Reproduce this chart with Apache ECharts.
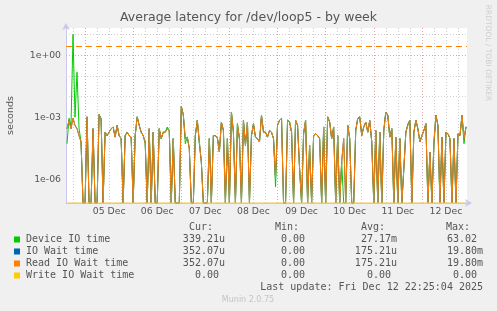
<!DOCTYPE html>
<html><head><meta charset="utf-8">
<script src="https://cdn.jsdelivr.net/npm/echarts@6/dist/echarts.min.js"></script>
<style>html,body{margin:0;padding:0;background:#f0f0f0;}#c{width:497px;height:311px;}</style>
</head><body><div id="c"></div>
<script>
// hours counted from Dec 4 00:00; one sample per hour starting Dec 4 15:00
const startHour = 15;
const deviceIO = [
5.3e-5,9e-4,4e-4,10,1e-3,0.15,3e-4,6.4e-5,0,0,
1.05e-3,0,0,2.8e-4,0,0,1.35e-3,8.7e-4,0,1.9e-4,
1.3e-4,1.9e-4,2.8e-4,3.4e-4,1.1e-4,4.1e-4,1.3e-4,9.3e-5,0,1.3e-4,
1.9e-4,1.3e-4,1.1e-4,0,1.3e-4,1.05e-3,4.1e-4,1.9e-4,1.3e-4,5.3e-5,
0,2.8e-4,0,1.9e-4,0,0,2.8e-4,9.3e-5,1.9e-4,1.9e-4,
3.4e-4,2.3e-4,0,9.3e-5,0,0,0,3.4e-3,1.35e-3,5.3e-5,
1.1e-4,3.1e-5,0,0,1.3e-4,7.2e-4,5.3e-5,7e-6,0,0,
0,9.3e-5,0,1.3e-4,1.3e-4,1e-4,2.1e-5,5.9e-4,2.3e-4,0,
9.3e-5,0,1.8e-3,1.9e-4,0,5e-4,9.3e-5,0,7.2e-4,4.4e-5,
5.9e-4,0,1.3e-4,4.9e-4,1.1e-4,9.3e-5,6.4e-5,1.25e-3,1.9e-4,1.9e-4,
1.1e-4,2.3e-4,1.9e-4,9.3e-5,4.3e-7,4.1e-4,7.2e-4,8.7e-4,0,0,
7.2e-4,6.2e-4,1.9e-4,0,7.2e-4,4.1e-4,3.3e-6,0,1.6e-4,7.2e-4,
0,4.4e-5,0,1.3e-4,1.6e-4,1.3e-4,9.3e-5,0,3.4e-4,0,
1.05e-3,5.9e-4,9.3e-5,3.4e-4,0,1.3e-4,0,7e-6,0,0,
4.1e-4,9.3e-5,0,0,2.3e-4,8.7e-4,1.05e-3,1.3e-4,3.4e-4,5.9e-4,
1.9e-4,6.6e-4,6.4e-5,0,2.3e-4,0,1.9e-4,0,2.3e-4,1.8e-3,
1.25e-3,1.1e-4,2.8e-4,0,1.1e-4,0,9.3e-5,0,3.3e-6,1.9e-4,
4.9e-4,7.2e-4,0,1.9e-4,7.2e-4,2.8e-4,6.4e-5,1.3e-4,2.3e-4,4.9e-4,
0,2.1e-5,0,4.4e-5,1.25e-3,4.1e-4,0,1.1e-4,0,1.9e-4,
1.6e-4,9.3e-5,0,9.3e-5,0,1.6e-4,1.3e-4,1.25e-3,5.3e-5,3.4e-4];
const ioWait = [
2.8e-4,7e-4,2.8e-4,9e-4,4e-4,2.8e-4,1.3e-4,6.4e-5,0,0,
1.05e-3,0,0,2.8e-4,0,0,1.35e-3,8.7e-4,0,1.9e-4,
1.3e-4,1.9e-4,2.8e-4,3.4e-4,1.1e-4,4.1e-4,1.3e-4,9.3e-5,0,1.3e-4,
1.9e-4,1.3e-4,1.1e-4,0,1.3e-4,1.05e-3,4.1e-4,1.9e-4,1.3e-4,6.4e-5,
0,2.8e-4,0,1.9e-4,0,0,2.8e-4,9.3e-5,1.9e-4,1.9e-4,
2.8e-4,2.3e-4,0,9.3e-5,0,0,0,3.4e-3,1.35e-3,9.3e-5,
1.1e-4,3.1e-5,0,0,1.3e-4,7.2e-4,6.4e-5,7e-6,0,0,
0,9.3e-5,0,1.3e-4,1.3e-4,1e-4,2.1e-5,5.9e-4,2.3e-4,0,
9.3e-5,0,1.8e-3,1.9e-4,0,4.5e-4,9.3e-5,0,7.2e-4,4.4e-5,
5.9e-4,0,1.3e-4,4.9e-4,1.1e-4,9.3e-5,6.4e-5,1.25e-3,1.9e-4,1.9e-4,
1.1e-4,2.3e-4,1.9e-4,9.3e-5,1.1e-6,4.1e-4,7.2e-4,8.7e-4,0,0,
7.2e-4,5.9e-4,1.9e-4,0,7.2e-4,4.1e-4,3.3e-6,0,1.6e-4,7.2e-4,
0,4.4e-5,0,1.3e-4,1.6e-4,1.3e-4,9.3e-5,0,3.4e-4,0,
1.05e-3,5.9e-4,9.3e-5,3.4e-4,0,1.3e-4,0,7e-6,9.3e-5,0,
4.1e-4,9.3e-5,0,0,2.3e-4,8.7e-4,1.05e-3,1.3e-4,3.4e-4,5.9e-4,
1.9e-4,7.2e-4,6.4e-5,0,2.3e-4,0,1.9e-4,0,2.3e-4,1.8e-3,
1.25e-3,1.1e-4,2.8e-4,0,1.1e-4,0,9.3e-5,0,3.3e-6,1.9e-4,
4.1e-4,7.2e-4,0,1.9e-4,7.2e-4,2.8e-4,6.4e-5,1.3e-4,2.3e-4,4.9e-4,
0,2.1e-5,0,6.4e-5,1.25e-3,4.1e-4,0,1.1e-4,0,1.9e-4,
1.6e-4,9.3e-5,0,9.3e-5,0,1.6e-4,1.3e-4,1.25e-3,9.3e-5,3.5e-4];
const readIOWait = [
2.8e-4,7e-4,2.8e-4,9e-4,4e-4,2.8e-4,1.3e-4,6.4e-5,0,0,
1.05e-3,0,0,2.8e-4,0,0,1.35e-3,8.7e-4,0,1.9e-4,
1.3e-4,1.9e-4,2.8e-4,3.4e-4,1.1e-4,4.1e-4,1.3e-4,9.3e-5,0,1.3e-4,
1.9e-4,1.3e-4,1.1e-4,0,1.3e-4,1.05e-3,4.1e-4,1.9e-4,1.3e-4,6.4e-5,
0,2.8e-4,0,1.9e-4,0,0,2.8e-4,9.3e-5,1.9e-4,1.9e-4,
2.8e-4,2.3e-4,0,9.3e-5,0,0,0,3.4e-3,1.35e-3,9.3e-5,
1.1e-4,3.1e-5,0,0,1.3e-4,7.2e-4,6.4e-5,7e-6,0,0,
0,9.3e-5,0,1.3e-4,1.3e-4,1e-4,2.1e-5,5.9e-4,2.3e-4,0,
9.3e-5,0,1.8e-3,1.9e-4,0,4.5e-4,9.3e-5,0,7.2e-4,4.4e-5,
5.9e-4,0,1.3e-4,4.9e-4,1.1e-4,9.3e-5,6.4e-5,1.25e-3,1.9e-4,1.9e-4,
1.1e-4,2.3e-4,1.9e-4,9.3e-5,1.1e-6,4.1e-4,7.2e-4,8.7e-4,0,0,
7.2e-4,5.9e-4,1.9e-4,0,7.2e-4,4.1e-4,3.3e-6,0,1.6e-4,7.2e-4,
0,4.4e-5,0,1.3e-4,1.6e-4,1.3e-4,9.3e-5,0,3.4e-4,0,
1.05e-3,5.9e-4,9.3e-5,3.4e-4,0,1.3e-4,0,7e-6,9.3e-5,0,
4.1e-4,9.3e-5,0,0,2.3e-4,8.7e-4,1.05e-3,1.3e-4,3.4e-4,5.9e-4,
1.9e-4,7.2e-4,6.4e-5,0,2.3e-4,0,1.9e-4,0,2.3e-4,1.8e-3,
1.25e-3,1.1e-4,2.8e-4,0,1.1e-4,0,9.3e-5,0,3.3e-6,1.9e-4,
4.1e-4,7.2e-4,0,1.9e-4,7.2e-4,2.8e-4,6.4e-5,1.3e-4,2.3e-4,4.9e-4,
0,2.1e-5,0,6.4e-5,1.25e-3,4.1e-4,0,1.1e-4,0,1.9e-4,
1.6e-4,9.3e-5,0,9.3e-5,0,1.6e-4,1.3e-4,1.25e-3,9.3e-5,3.5e-4];
const writeIOWait = [
0,0,0,0,0,0,0,0,0,0, 0,0,0,0,0,0,0,0,0,0, 0,0,0,0,0,0,0,0,0,0, 0,0,0,0,0,0,0,0,0,0,
0,0,0,0,0,0,0,0,0,0, 0,0,0,0,0,0,0,0,0,0, 0,0,0,0,0,0,0,0,0,0, 0,0,0,0,0,0,0,0,0,0,
0,0,0,0,0,0,0,0,0,0, 0,0,0,0,0,0,0,0,0,0, 0,0,0,0,0,0,0,0,0,0, 0,0,0,0,0,0,0,0,0,0,
0,0,0,0,0,0,0,0,0,0, 0,0,0,0,0,0,0,0,0,0, 0,0,0,0,0,0,0,0,0,0, 0,0,0,0,0,0,0,0,0,0,
0,0,0,0,0,0,0,0,0,0, 0,0,0,0,0,0,0,0,0,0, 0,0,0,0,0,0,0,0,0,0, 0,0,0,0,0,0,0,0,0,0];
const warnLevel = 2.7;

const dayLabels = ['05 Dec','06 Dec','07 Dec','08 Dec','09 Dec','10 Dec','11 Dec','12 Dec'];
const dayLabelHours = [36,60,84,108,132,156,180,204];
const yTickValues = [1e-6,1e-3,1];
const yTickLabels = ['1e-06','1e-03','1e+00'];

const legendNames = ['Device IO time','IO Wait time','Read IO Wait time','Write IO Wait time'];
const legendColors = ['#00cc00','#0066b3','#ff8000','#ffcc00'];
const curVals = ['339.21u','352.07u','352.07u','0.00'];
const minVals = ['0.00','0.00','0.00','0.00'];
const avgVals = ['27.17m','175.21u','175.21u','0.00'];
const maxVals = ['63.02','19.80m','19.80m','0.00'];
const lastUpdate = 'Last update: Fri Dec 12 22:25:04 2025';

const Y_MIN = 7.2e-8, Y_MAX = 20.6;
const X_MIN = 14.5, X_MAX = 214.5;

function pts(arr){ return arr.map((v,i)=>[startHour+i, v>0 ? v : Y_MIN]); }

const gridLines = [];
[1e-7,1e-6,1e-5,1e-4,1e-3,1e-2,1e-1,1,10].forEach(v=>{
  const major = (v===1e-6||v===1e-3||v===1);
  gridLines.push({yAxis:v, lineStyle:{color: major?'#e7a5a5':'#cfcfcf', type:[1,2], width:1}});
});
for (let h=18; h<=210; h+=6){
  const major = h%24===0;
  gridLines.push({xAxis:h, lineStyle:{color: major?'#e7a5a5':'#cfcfcf', type:[1,2], width:1}});
}

const chart = echarts.init(document.getElementById('c'), null, {renderer:'canvas'});
const mono = 'DejaVu Sans Mono';
const graphics = [];
const rowY = [239.5,251.5,263.5,275.5];
const txt = (x,y,s,align,extra)=>Object.assign({type:'text', x:x, y:y, silent:true,
  style:{text:s, fill:'#555', font:'10px "'+mono+'"', textAlign:align, textVerticalAlign:'middle'}}, extra||{});
graphics.push(txt(213,227.3,'Cur:','right'));
graphics.push(txt(299,227.3,'Min:','right'));
graphics.push(txt(385,227.3,'Avg:','right'));
graphics.push(txt(470,227.3,'Max:','right'));
legendNames.forEach((n,k)=>{
  graphics.push({type:'rect', shape:{x:14,y:rowY[k]-3,width:6,height:6}, style:{fill:legendColors[k]}, silent:true});
  graphics.push(txt(26,rowY[k],n,'left'));
  const u = s=>/[um]$/.test(s);
  graphics.push(txt(u(curVals[k])?225:219,rowY[k],curVals[k],'right'));
  graphics.push(txt(u(minVals[k])?311:305,rowY[k],minVals[k],'right'));
  graphics.push(txt(u(avgVals[k])?397:391,rowY[k],avgVals[k],'right'));
  graphics.push(txt(u(maxVals[k])?483:477,rowY[k],maxVals[k],'right'));
});
graphics.push(txt(483,287.7,lastUpdate,'right'));
graphics.push({type:'text', x:248, y:300, silent:true,
  style:{text:'Munin 2.0.75', fill:'#c4c4c4', font:'8px "DejaVu Sans"', textAlign:'center', textVerticalAlign:'middle'}});
graphics.push({type:'text', x:488, y:53, rotation:-Math.PI/2, silent:true,
  style:{text:'RRDTOOL / TOBI OETIKER', fill:'#cfcfcf', font:'7.5px "DejaVu Sans"', textAlign:'center', textVerticalAlign:'middle'}});

const lineSeries = (name, data, color, extra)=>Object.assign({
  name:name, type:'line', data:pts(data), showSymbol:false, symbol:'none',
  lineStyle:{color:color, width:1}, itemStyle:{color:color}, clip:true, animation:false
}, extra||{});

chart.setOption({
  backgroundColor:'#f0f0f0',
  animation:false,
  title:{text:'Average latency for /dev/loop5 - by week', left:'center', top:11, padding:0,
    textStyle:{fontFamily:'DejaVu Sans', fontSize:12.5, fontWeight:'normal', color:'#555'}},
  grid:{left:66, top:28, width:401, height:175, show:true, backgroundColor:'#ffffff', borderWidth:0,
    containLabel:false, outerBoundsMode:'none'},
  xAxis:{type:'value', min:X_MIN, max:X_MAX,
    axisLine:{show:true, lineStyle:{color:'#c8c8f0', width:1}, symbol:['none','arrow'], symbolSize:[6,7], symbolOffset:[0,5]},
    axisTick:{show:false}, splitLine:{show:false},
    axisLabel:{customValues:dayLabelHours, formatter:v=>dayLabels[dayLabelHours.indexOf(v)]||'',
      fontFamily:'DejaVu Sans', fontSize:9.3, color:'#555', margin:4}},
  yAxis:{type:'log', logBase:10, min:Y_MIN, max:Y_MAX,
    name:'seconds', nameLocation:'middle', nameGap:50,
    nameTextStyle:{fontFamily:'DejaVu Sans', fontSize:9.5, color:'#555'},
    axisLine:{show:true, lineStyle:{color:'#c8c8f0', width:1}, symbol:['none','arrow'], symbolSize:[6,7], symbolOffset:[0,5]},
    axisTick:{show:false}, splitLine:{show:false},
    axisLabel:{customValues:yTickValues, formatter:v=>{
      let k=-1; yTickValues.forEach((t,j)=>{ if (Math.abs(Math.log10(t)-Math.log10(v))<1e-6) k=j; });
      return k>=0 ? yTickLabels[k] : ''; },
      fontFamily:'DejaVu Sans', fontSize:9.3, color:'#555', margin:5}},
  series:[
    lineSeries('Device IO time', deviceIO, '#00cc00', {markLine:{silent:true, symbol:'none', z:1, label:{show:false}, data:gridLines, animation:false}}),
    lineSeries('IO Wait time', ioWait, '#0066b3'),
    lineSeries('Read IO Wait time', readIOWait, '#ff8000', {markLine:{silent:true, symbol:'none', label:{show:false}, animation:false,
      data:[{yAxis:warnLevel, lineStyle:{color:'#ff8000', type:[6,4], width:1}}]}}),
    lineSeries('Write IO Wait time', writeIOWait, '#f2c04a')
  ],
  graphic:graphics
});
</script></body></html>
